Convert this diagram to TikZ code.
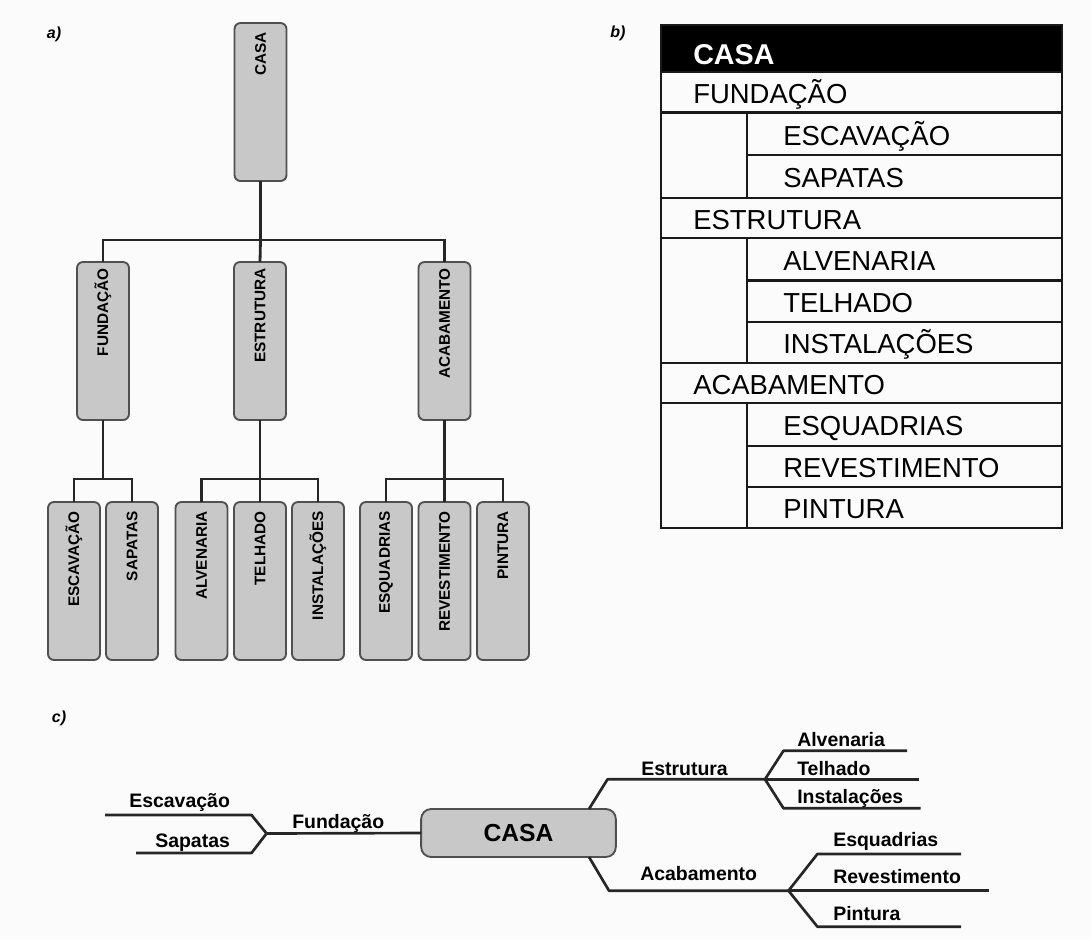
\documentclass[tikz,border=0pt]{standalone}
\usepackage{fontspec}
\setmainfont{Liberation Sans}
\usetikzlibrary{calc}
\definecolor{boxfill}{HTML}{C8C8C8}
\definecolor{boxline}{HTML}{505050}
\definecolor{inkline}{HTML}{262626}
\begin{document}
\begin{tikzpicture}[x=0.75pt,y=-0.75pt,
  treebox/.style={draw=boxline, fill=boxfill, line width=1.4pt, rounded corners=4.5pt,
    minimum width=39pt, minimum height=118.5pt, inner sep=0pt, outer sep=0pt},
  vlabel/.style={rotate=90, anchor=east, inner sep=0pt, font=\fontsize{11.5}{12}\selectfont\bfseries},
  link/.style={line width=2.1pt, draw=inkline},
  tblline/.style={line width=2.1pt, draw=black!90},
  grptext/.style={anchor=base west, inner sep=0pt, font=\fontsize{20.6}{22}\selectfont},
  hdrtext/.style={anchor=base west, inner sep=0pt, text=white, font=\fontsize{21.5}{23}\selectfont\bfseries},
  mapline/.style={line width=2pt, draw=inkline, line join=round},
  maptext/.style={anchor=base west, inner sep=0pt, font=\fontsize{14.6}{16}\selectfont\bfseries},
  hubbox/.style={draw=boxline, fill=boxfill, line width=1.4pt, rounded corners=7.5pt,
    minimum width=146pt, minimum height=36pt, inner sep=0pt, outer sep=0pt,
    font=\fontsize{18.5}{20}\selectfont\bfseries},
  partlabel/.style={inner sep=0pt, font=\fontsize{12}{13}\selectfont\bfseries\itshape}
]
\useasboundingbox (0,0) rectangle (1091,939);
\fill[gray!3] (0,0) rectangle (1091,939);

% ---------- a) vertical tree ----------
\node[partlabel] (la) at (54,34) {a)};

\node[treebox] (casa) at (260.5,102) {};
\node[treebox] (fund) at (103,341) {};
\node[treebox] (estr) at (260,341) {};
\node[treebox] (acab) at (444.5,341) {};
\node[treebox] (esc) at (74,581) {};
\node[treebox] (sap) at (132,581) {};
\node[treebox] (alv) at (201.5,581) {};
\node[treebox] (tel) at (260,581) {};
\node[treebox] (ins) at (318,581) {};
\node[treebox] (esq) at (386,581) {};
\node[treebox] (rev) at (444.5,581) {};
\node[treebox] (pin) at (503,581) {};

\node[vlabel] (tcasa) at ($(casa.north)+(0,9)$) {CASA};
\node[vlabel] (tfund) at ($(fund.north)+(0,6)$) {FUNDAÇÃO};
\node[vlabel] (testr) at ($(estr.north)+(0,6)$) {ESTRUTURA};
\node[vlabel] (tacab) at ($(acab.north)+(0,6)$) {ACABAMENTO};
\node[vlabel] (tesc) at ($(esc.north)+(0,9)$) {ESCAVAÇÃO};
\node[vlabel] (tsap) at ($(sap.north)+(0,9)$) {SAPATAS};
\node[vlabel] (talv) at ($(alv.north)+(0,9)$) {ALVENARIA};
\node[vlabel] (ttel) at ($(tel.north)+(0,9)$) {TELHADO};
\node[vlabel] (tins) at ($(ins.north)+(0,9)$) {INSTALAÇÕES};
\node[vlabel] (tesq) at ($(esq.north)+(0,9)$) {ESQUADRIAS};
\node[vlabel] (trev) at ($(rev.north)+(0,9)$) {REVESTIMENTO};
\node[vlabel] (tpin) at ($(pin.north)+(0,9)$) {PINTURA};

\coordinate (j1) at (260.5,240);
\coordinate (j2) at (103,479);
\coordinate (j3) at (260,479);
\coordinate (j4) at (444.5,479);

\draw[link] (casa.south) -- (j1);
\draw[link] (fund.north) |- (j1) -| (acab.north);
\draw[link] (j1) -- (estr.north);
\draw[link] (fund.south) -- (j2);
\draw[link] (esc.north) |- (j2) -| (sap.north);
\draw[link] (estr.south) -- (tel.north);
\draw[link] (alv.north) |- (j3) -| (ins.north);
\draw[link] (acab.south) -- (rev.north);
\draw[link] (esq.north) |- (j4) -| (pin.north);

% ---------- b) indented table ----------
\node[partlabel] (lb) at (618,33) {b)};

\fill[black] (661,25) rectangle (1062,72);
\draw[tblline] (661,25) rectangle (1062,528);
\foreach \yy in {72,112.5,198,238,363,403}
  \draw[tblline] (661,\yy) -- (1062,\yy);
\foreach \yy in {155,280.5,322,446,487}
  \draw[tblline] (747,\yy) -- (1062,\yy);
\draw[tblline] (747,112.5) -- (747,198);
\draw[tblline] (747,238) -- (747,363);
\draw[tblline] (747,403) -- (747,528);

\node[hdrtext] (bcasa) at (693,64) {CASA};
\node[grptext] (bfund) at (693,103.6) {FUNDAÇÃO};
\node[grptext] (besc) at (783,145) {ESCAVAÇÃO};
\node[grptext] (bsap) at (783,187.8) {SAPATAS};
\node[grptext] (bestr) at (693,229.3) {ESTRUTURA};
\node[grptext] (balv) at (783,270.5) {ALVENARIA};
\node[grptext] (btel) at (783,312.5) {TELHADO};
\node[grptext] (bins) at (783,353.8) {INSTALAÇÕES};
\node[grptext] (bacab) at (693,394.3) {ACABAMENTO};
\node[grptext] (besq) at (783,435.8) {ESQUADRIAS};
\node[grptext] (brev) at (783,477.8) {REVESTIMENTO};
\node[grptext] (bpin) at (783,518.8) {PINTURA};

% ---------- c) mind map ----------
\node[partlabel] (lc) at (59,718) {c)};

\node[hubbox] (hub) at (518.5,833) {CASA};

% Fundação branch (to the left)
\coordinate (fj) at (266.5,833.5);
\coordinate (fup) at (251.5,815);
\coordinate (flo) at (251.5,853);
\coordinate (escend) at (105,815);
\coordinate (sapend) at (136,853);
\draw[mapline] (hub.west) -- (fj);
\draw[mapline] (fj) -- (fup) -- (escend);
\draw[mapline] (fj) -- (flo) -- (sapend);
\node[maptext] (cfund) at (292,828) {Fundação};
\node[maptext] (cesc) at (129,807) {Escavação};
\node[maptext] (csap) at (155,847) {Sapatas};

% Estrutura branch (upper right)
\coordinate (es0) at (589,809);
\coordinate (es1) at (607.5,779.3);
\coordinate (ej) at (765,779.3);
\coordinate (eup) at (783.5,750.7);
\coordinate (elo) at (783.5,808.3);
\coordinate (alvend) at (907,750.7);
\coordinate (telend) at (919,779.3);
\coordinate (insend) at (920.5,808.3);
\draw[mapline] (es0) -- (es1) -- (ej);
\draw[mapline] (ej) -- (eup) -- (alvend);
\draw[mapline] (ej) -- (telend);
\draw[mapline] (ej) -- (elo) -- (insend);
\node[maptext] (cestr) at (641,775) {Estrutura};
\node[maptext] (calv) at (797,746) {Alvenaria};
\node[maptext] (ctel) at (797,775) {Telhado};
\node[maptext] (cins) at (797,803.3) {Instalações};

% Acabamento branch (lower right)
\coordinate (ac0) at (589,857);
\coordinate (ac1) at (609,890.7);
\coordinate (aj) at (788.5,890.7);
\coordinate (aup) at (817.4,854);
\coordinate (alo) at (817.4,926.7);
\coordinate (esqend) at (961,854);
\coordinate (revend) at (988.5,890.7);
\coordinate (pinend) at (961,926.7);
\draw[mapline] (ac0) -- (ac1) -- (aj);
\draw[mapline] (aj) -- (aup) -- (esqend);
\draw[mapline] (aj) -- (revend);
\draw[mapline] (aj) -- (alo) -- (pinend);
\node[maptext] (cacab) at (640,880) {Acabamento};
\node[maptext] (cesq) at (833,846.7) {Esquadrias};
\node[maptext] (crev) at (833,883.3) {Revestimento};
\node[maptext] (cpin) at (833,920) {Pintura};
\end{tikzpicture}
\end{document}
